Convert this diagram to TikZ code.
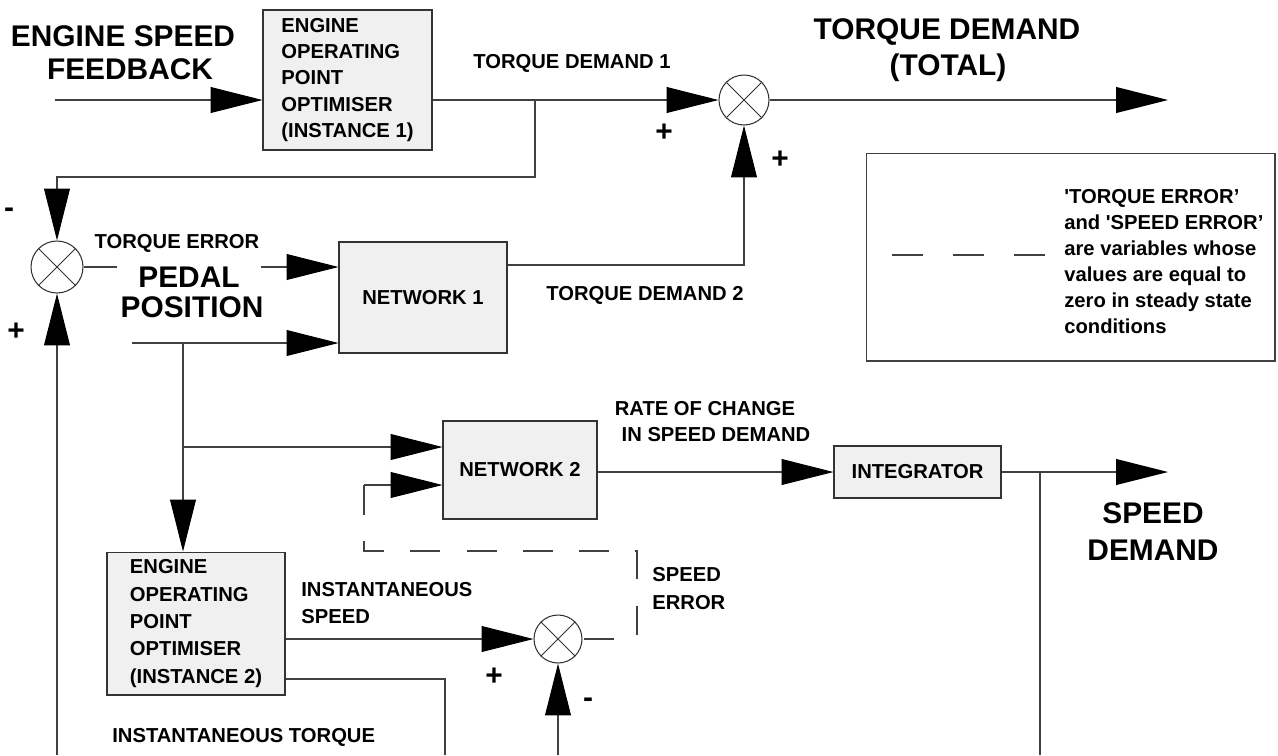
\documentclass[tikz,border=0pt]{standalone}
\usepackage{fontspec}
\setmainfont{Liberation Sans}
\usetikzlibrary{arrows.meta}
\begin{document}
\begin{tikzpicture}[x=0.02cm,y=-0.02cm,
  ln/.style={line width=0.6pt, draw=black!75},
  tip/.style={-{Triangle[length=29.5pt,width=14.7pt,color=black,fill=black]}},
  arr/.style={ln, tip},
  dsh/.style={ln, dash pattern=on 17pt off 15pt},
  blk/.style={draw=black!80, line width=0.6pt, fill=black!6, inner sep=0pt, align=left,
    font=\fontsize{11.5}{15}\selectfont\bfseries},
  sumj/.style={circle, draw=black!80, line width=0.6pt, fill=white, minimum size=1cm, inner sep=0pt},
  sm/.style={font=\fontsize{11.5}{15}\selectfont\bfseries, inner sep=0pt},
  big/.style={font=\fontsize{17}{19}\selectfont\bfseries, inner sep=0pt},
  sgn/.style={font=\fontsize{17}{19}\selectfont\bfseries, inner sep=0pt},
]
\useasboundingbox (0,0) rectangle (1278,755);

% ---- blocks ----
\node[blk, minimum width=3.38cm, minimum height=2.8cm] (eop1) at (347.5,80)
  {ENGINE\\OPERATING\\POINT\\OPTIMISER\\(INSTANCE 1)};
\node[blk, minimum width=3.36cm, minimum height=2.22cm] (n1) at (423,297.5) {NETWORK 1};
\node[blk, minimum width=3.08cm, minimum height=1.96cm] (n2) at (520,470) {NETWORK 2};
\node[blk, minimum width=3.34cm, minimum height=1.04cm] (integ) at (917.5,472) {INTEGRATOR};
\node[blk, minimum width=3.56cm, minimum height=2.86cm, font=\fontsize{11.5}{15.6}\selectfont\bfseries] (eop2) at (196,623.5)
  {ENGINE\\OPERATING\\POINT\\OPTIMISER\\(INSTANCE 2)};
\node[draw=black!75, line width=0.6pt, minimum width=8.18cm, minimum height=4.16cm, inner sep=0pt] (leg) at (1070.5,257) {};

% ---- summing junctions ----
\node[sumj] (s1) at (744,100) {};
\node[sumj, minimum size=1.04cm] (s2) at (57,267) {};
\node[sumj, minimum size=0.96cm] (s3) at (558,639) {};
\foreach \s in {s1,s2,s3}
  \draw[line width=0.5pt, black!80] (\s.45) -- (\s.225) (\s.135) -- (\s.315);

% ---- coordinates ----
\coordinate (in1) at (55,100);
\coordinate (b1) at (535,100);
\coordinate (b1top) at (535,177);
\coordinate (out1) at (1168,100);
\coordinate (td2) at (744,265);
\coordinate (ped) at (132,343);
\coordinate (b2) at (183,343);
\coordinate (b3) at (183,447);
\coordinate (sd) at (1168,472);
\coordinate (b4) at (1040,472);
\coordinate (b4e) at (1040,755);
\coordinate (it) at (445,679);
\coordinate (ite) at (445,755);
\coordinate (s3in) at (558,755);
\coordinate (fb) at (57,755);
\coordinate (d1) at (637,639);
\coordinate (d2) at (637,551);
\coordinate (d3) at (364,551);
\coordinate (d4) at (364,485);
\coordinate (l1) at (892,255);
\coordinate (l2) at (1045,255);

% ---- connectors ----
\draw[arr] (in1) -- (eop1.west |- in1);
\draw[arr] (eop1.east |- s1.west) -- (s1.west);
\draw[arr] (b1) -- (b1top) -- (s2.north |- b1top) -- (s2.north);
\draw[arr] (s1.east) -- (out1);
\draw[arr] (n1.east |- td2) -- (td2) -- (s1.south);
\draw[arr] (s2.east) -- (n1.west |- s2.east);
\draw[arr] (ped) -- (n1.west |- ped);
\draw[arr] (b2) -- (b2 |- eop2.north);
\draw[arr] (b3) -- (n2.west |- b3);
\draw[arr] (n2.east |- integ.west) -- (integ.west);
\draw[arr] (integ.east) -- (sd);
\draw[ln] (b4) -- (b4e);
\draw[arr] (eop2.east |- s3.west) -- (s3.west);
\draw[ln] (eop2.east |- it) -- (it) -- (ite);
\draw[arr] (s3in) -- (s3.south);
\draw[arr] (fb) -- (s2.south);
\draw[dsh] (d4) -- (d3) -- (d2) -- (d1) -- (s3.east);
\draw[arr] (d4) -- (n2.west |- d4);
\draw[ln, dash pattern=on 17.6pt off 17pt] (l1) -- (l2);

% ---- labels ----
\node[big] (esf1) at (123,36) {ENGINE SPEED};
\node[big] (esf2) at (130,69) {FEEDBACK};
\node[big] (tdt1) at (947,32) {TORQUE DEMAND};
\node[big] (tdt2) at (948,68) {(TOTAL)};
\node[sm] (td1) at (572,63) {TORQUE DEMAND 1};
\node[sm] (te) at (177,243) {TORQUE ERROR};
\node[big, fill=white, inner xsep=12pt, inner ysep=1pt] (pp1) at (189,277) {PEDAL};
\node[big] (pp2) at (192,307) {POSITION};
\node[sm] (tdl2) at (645,295) {TORQUE DEMAND 2};
\node[sm] (roc1) at (705,409) {RATE OF CHANGE};
\node[sm] (roc2) at (716,435) {IN SPEED DEMAND};
\node[big] (sdm1) at (1153,513) {SPEED};
\node[big] (sdm2) at (1153,550) {DEMAND};
\node[sm, anchor=west] (is1) at (301,590) {INSTANTANEOUS};
\node[sm, anchor=west] (is2) at (301,617) {SPEED};
\node[sm, anchor=west] (se1) at (652,575) {SPEED};
\node[sm, anchor=west] (se2) at (652,603) {ERROR};
\node[sm, anchor=west] (itq) at (112,737) {INSTANTANEOUS TORQUE};
\node[sm, anchor=west, align=left, font=\fontsize{11.5}{14.8}\selectfont\bfseries] (legt) at (1064,262)
  {\textquotesingle TORQUE ERROR'\\and \textquotesingle SPEED ERROR'\\are variables whose\\values are equal to\\zero in steady state\\conditions};

% ---- signs ----
\node[sgn] (p1) at (664,133) {+};
\node[sgn] (p2) at (780,160) {+};
\node[sgn] (m1) at (9,213) {-};
\node[sgn] (p3) at (16,332) {+};
\node[sgn] (p4) at (494,677) {+};
\node[sgn] (m2) at (588,703) {-};
\end{tikzpicture}
\end{document}
